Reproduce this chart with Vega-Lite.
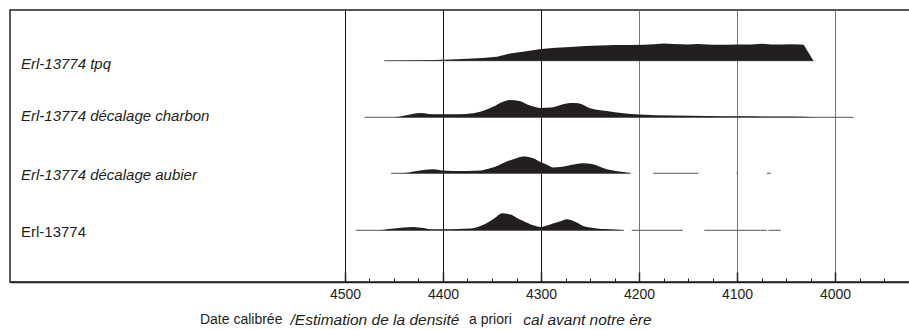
{
  "$schema": "https://vega.github.io/schema/vega-lite/v6.json",
  "width": 900,
  "height": 272,
  "autosize": {"type": "none"},
  "padding": {"left": 10, "top": 10, "right": 0, "bottom": 48},
  "background": "white",
  "config": {
    "view": {"stroke": "#231f20", "strokeWidth": 1.5},
    "font": "Liberation Sans",
    "text": {"font": "Liberation Sans"}
  },
  "datasets": {
    "dens": [
      {"s": "tpq", "year": 4460, "d": 0}, {"s": "tpq", "year": 4440, "d": 0.2}, {"s": "tpq", "year": 4420, "d": 0.5}, {"s": "tpq", "year": 4400, "d": 1}, {"s": "tpq", "year": 4380, "d": 1.6}, {"s": "tpq", "year": 4360, "d": 2.6}, {"s": "tpq", "year": 4345, "d": 4}, {"s": "tpq", "year": 4330, "d": 7.5}, {"s": "tpq", "year": 4315, "d": 9.5}, {"s": "tpq", "year": 4300, "d": 11.8}, {"s": "tpq", "year": 4285, "d": 13}, {"s": "tpq", "year": 4270, "d": 13.8}, {"s": "tpq", "year": 4255, "d": 14.6}, {"s": "tpq", "year": 4240, "d": 15.2}, {"s": "tpq", "year": 4225, "d": 15.6}, {"s": "tpq", "year": 4210, "d": 15.8}, {"s": "tpq", "year": 4195, "d": 16}, {"s": "tpq", "year": 4185, "d": 16.4}, {"s": "tpq", "year": 4175, "d": 17.2}, {"s": "tpq", "year": 4165, "d": 16.6}, {"s": "tpq", "year": 4150, "d": 16.2}, {"s": "tpq", "year": 4140, "d": 16.6}, {"s": "tpq", "year": 4125, "d": 16}, {"s": "tpq", "year": 4110, "d": 15.9}, {"s": "tpq", "year": 4100, "d": 16.2}, {"s": "tpq", "year": 4085, "d": 16.3}, {"s": "tpq", "year": 4075, "d": 16.9}, {"s": "tpq", "year": 4065, "d": 16.2}, {"s": "tpq", "year": 4055, "d": 16.1}, {"s": "tpq", "year": 4045, "d": 16.4}, {"s": "tpq", "year": 4035, "d": 16.1}, {"s": "tpq", "year": 4032, "d": 16}, {"s": "tpq", "year": 4022, "d": 0},
      {"s": "charbon", "year": 4480, "d": 0}, {"s": "charbon", "year": 4450, "d": 0.1}, {"s": "charbon", "year": 4440, "d": 1.5}, {"s": "charbon", "year": 4430, "d": 3.5}, {"s": "charbon", "year": 4423, "d": 4.2}, {"s": "charbon", "year": 4415, "d": 3.4}, {"s": "charbon", "year": 4405, "d": 3}, {"s": "charbon", "year": 4390, "d": 3.1}, {"s": "charbon", "year": 4376, "d": 3.4}, {"s": "charbon", "year": 4362, "d": 5.5}, {"s": "charbon", "year": 4349, "d": 10.5}, {"s": "charbon", "year": 4340, "d": 15}, {"s": "charbon", "year": 4332, "d": 17.3}, {"s": "charbon", "year": 4322, "d": 16.4}, {"s": "charbon", "year": 4312, "d": 12}, {"s": "charbon", "year": 4300, "d": 9.3}, {"s": "charbon", "year": 4290, "d": 9.7}, {"s": "charbon", "year": 4280, "d": 12.3}, {"s": "charbon", "year": 4270, "d": 14.2}, {"s": "charbon", "year": 4262, "d": 14}, {"s": "charbon", "year": 4250, "d": 9}, {"s": "charbon", "year": 4233, "d": 6.3}, {"s": "charbon", "year": 4216, "d": 4}, {"s": "charbon", "year": 4200, "d": 2.7}, {"s": "charbon", "year": 4165, "d": 1.7}, {"s": "charbon", "year": 4131, "d": 1.3}, {"s": "charbon", "year": 4097, "d": 1}, {"s": "charbon", "year": 4060, "d": 0.7}, {"s": "charbon", "year": 4032, "d": 0.6}, {"s": "charbon", "year": 4020, "d": 0},
      {"s": "aubier", "year": 4453, "d": 0}, {"s": "aubier", "year": 4440, "d": 0.3}, {"s": "aubier", "year": 4430, "d": 1.8}, {"s": "aubier", "year": 4420, "d": 3.3}, {"s": "aubier", "year": 4410, "d": 4}, {"s": "aubier", "year": 4400, "d": 2.8}, {"s": "aubier", "year": 4390, "d": 2.3}, {"s": "aubier", "year": 4375, "d": 2.3}, {"s": "aubier", "year": 4362, "d": 2.8}, {"s": "aubier", "year": 4352, "d": 5}, {"s": "aubier", "year": 4343, "d": 8}, {"s": "aubier", "year": 4335, "d": 11.7}, {"s": "aubier", "year": 4326, "d": 14.8}, {"s": "aubier", "year": 4318, "d": 16.7}, {"s": "aubier", "year": 4308, "d": 15}, {"s": "aubier", "year": 4300, "d": 11}, {"s": "aubier", "year": 4295, "d": 9}, {"s": "aubier", "year": 4287, "d": 5.7}, {"s": "aubier", "year": 4280, "d": 6.2}, {"s": "aubier", "year": 4274, "d": 7.3}, {"s": "aubier", "year": 4265, "d": 9}, {"s": "aubier", "year": 4257, "d": 10}, {"s": "aubier", "year": 4247, "d": 9}, {"s": "aubier", "year": 4240, "d": 6.5}, {"s": "aubier", "year": 4233, "d": 4}, {"s": "aubier", "year": 4225, "d": 2.5}, {"s": "aubier", "year": 4216, "d": 1.3}, {"s": "aubier", "year": 4209, "d": 0.4}, {"s": "aubier", "year": 4200, "d": 0},
      {"s": "erl", "year": 4489, "d": 0}, {"s": "erl", "year": 4465, "d": 0.1}, {"s": "erl", "year": 4455, "d": 1.2}, {"s": "erl", "year": 4440, "d": 2.8}, {"s": "erl", "year": 4430, "d": 3.3}, {"s": "erl", "year": 4420, "d": 2.2}, {"s": "erl", "year": 4413, "d": 1.1}, {"s": "erl", "year": 4400, "d": 1}, {"s": "erl", "year": 4385, "d": 1.2}, {"s": "erl", "year": 4372, "d": 1.7}, {"s": "erl", "year": 4362, "d": 4.3}, {"s": "erl", "year": 4352, "d": 9}, {"s": "erl", "year": 4346, "d": 13}, {"s": "erl", "year": 4340, "d": 17}, {"s": "erl", "year": 4331, "d": 15.7}, {"s": "erl", "year": 4325, "d": 12.5}, {"s": "erl", "year": 4318, "d": 9.3}, {"s": "erl", "year": 4308, "d": 5}, {"s": "erl", "year": 4300, "d": 3.3}, {"s": "erl", "year": 4293, "d": 5}, {"s": "erl", "year": 4287, "d": 7}, {"s": "erl", "year": 4280, "d": 9}, {"s": "erl", "year": 4274, "d": 11}, {"s": "erl", "year": 4267, "d": 9.3}, {"s": "erl", "year": 4262, "d": 7}, {"s": "erl", "year": 4257, "d": 4.3}, {"s": "erl", "year": 4250, "d": 2.8}, {"s": "erl", "year": 4243, "d": 1.7}, {"s": "erl", "year": 4226, "d": 0.7}, {"s": "erl", "year": 4215, "d": 0}
    ],
    "segs": [
      {"s": "tpq", "from": 4460, "to": 4022},
      {"s": "charbon", "from": 4480, "to": 3981},
      {"s": "aubier", "from": 4453, "to": 4209},
      {"s": "aubier", "from": 4185.4, "to": 4139.5},
      {"s": "aubier", "from": 4100.5, "to": 4099},
      {"s": "aubier", "from": 4069.7, "to": 4065.6},
      {"s": "erl", "from": 4489, "to": 4215.3},
      {"s": "erl", "from": 4207.4, "to": 4155.4},
      {"s": "erl", "from": 4133.4, "to": 4069.7},
      {"s": "erl", "from": 4068, "to": 4055.4}
    ],
    "labels": [
      {"s": "tpq", "label": "Erl-13774 tpq"},
      {"s": "charbon", "label": "Erl-13774 décalage charbon"},
      {"s": "aubier", "label": "Erl-13774 décalage aubier"},
      {"s": "erl", "label": "Erl-13774"}
    ],
    "title": [
      {"part": 1, "t": "Date calibrée"},
      {"part": 2, "t": "/Estimation de la densité"},
      {"part": 3, "t": "a priori"},
      {"part": 4, "t": "cal avant notre ère"}
    ]
  },
  "layer": [
    {
      "data": {"name": "dens"},
      "mark": {"type": "point", "opacity": 0},
      "encoding": {
        "x": {"field": "year", "type": "quantitative",
          "scale": {"domain": [3923.5, 4841.8], "reverse": true, "nice": false, "zero": false},
          "axis": {"orient": "bottom",
            "values": [4500, 4475, 4450, 4425, 4400, 4375, 4350, 4325, 4300, 4275, 4250, 4225, 4200, 4175, 4150, 4125, 4100, 4075, 4050, 4025, 4000, 3975, 3950, 3925],
            "format": "d", "title": null,
            "labelExpr": "datum.value % 100 === 0 ? datum.label : ''",
            "grid": true,
            "gridColor": {"condition": {"test": "datum.value >= 4300", "value": "#111111"}, "value": "#777777"},
            "gridOpacity": {"condition": {"test": "datum.value % 100 === 0", "value": 1}, "value": 0},
            "gridWidth": 1,
            "domain": true, "domainColor": "#231f20", "domainWidth": 1.5,
            "ticks": true,
            "tickSize": {"condition": {"test": "datum.value % 100 === 0", "value": -10}, "value": -4},
            "tickWidth": {"condition": {"test": "datum.value % 100 === 0", "value": 1.5}, "value": 1},
            "tickColor": "#231f20",
            "labelFont": "Liberation Sans", "labelFontSize": 14, "labelColor": "#231f20", "labelPadding": 15}},
        "y": {"field": "d", "type": "quantitative", "axis": null, "scale": {"domain": [0, 272], "nice": false, "zero": false}}
      }
    },
    {
      "layer": [
        {"data": {"name": "segs"}, "transform": [{"filter": "datum.s == 'tpq'"}],
          "mark": {"type": "rule", "color": "#555555", "strokeWidth": 1},
          "encoding": {"x": {"field": "from", "type": "quantitative", "axis": null}, "x2": {"field": "to"}, "y": {"datum": 0, "type": "quantitative", "axis": null, "scale": {"domain": [-221.3, 50.7], "nice": false, "zero": false}}}},
        {"data": {"name": "dens"}, "transform": [{"filter": "datum.s == 'tpq'"}],
          "mark": {"type": "area", "color": "#231f20", "interpolate": "linear"},
          "encoding": {"x": {"field": "year", "type": "quantitative", "axis": null}, "y": {"field": "d", "type": "quantitative", "axis": null}, "y2": {"datum": 0}}},
        {"data": {"name": "labels"}, "transform": [{"filter": "datum.s == 'tpq'"}],
          "mark": {"type": "text", "align": "left", "baseline": "middle", "fontSize": 15, "fontStyle": "italic", "color": "#231f20"},
          "encoding": {"x": {"datum": 4830.6, "type": "quantitative", "axis": null}, "y": {"datum": -3.6, "type": "quantitative", "axis": null}, "text": {"field": "label"}}}
      ]
    },
    {
      "layer": [
        {"data": {"name": "segs"}, "transform": [{"filter": "datum.s == 'charbon'"}],
          "mark": {"type": "rule", "color": "#555555", "strokeWidth": 1},
          "encoding": {"x": {"field": "from", "type": "quantitative", "axis": null}, "x2": {"field": "to"}, "y": {"datum": 0, "type": "quantitative", "axis": null, "scale": {"domain": [-164.7, 107.3], "nice": false, "zero": false}}}},
        {"data": {"name": "dens"}, "transform": [{"filter": "datum.s == 'charbon'"}],
          "mark": {"type": "area", "color": "#231f20", "interpolate": "monotone"},
          "encoding": {"x": {"field": "year", "type": "quantitative", "axis": null}, "y": {"field": "d", "type": "quantitative", "axis": null}, "y2": {"datum": 0}}},
        {"data": {"name": "labels"}, "transform": [{"filter": "datum.s == 'charbon'"}],
          "mark": {"type": "text", "align": "left", "baseline": "middle", "fontSize": 15, "fontStyle": "italic", "color": "#231f20"},
          "encoding": {"x": {"datum": 4830.6, "type": "quantitative", "axis": null}, "y": {"datum": 1.0, "type": "quantitative", "axis": null}, "text": {"field": "label"}}}
      ]
    },
    {
      "layer": [
        {"data": {"name": "segs"}, "transform": [{"filter": "datum.s == 'aubier'"}],
          "mark": {"type": "rule", "color": "#555555", "strokeWidth": 1},
          "encoding": {"x": {"field": "from", "type": "quantitative", "axis": null}, "x2": {"field": "to"}, "y": {"datum": 0, "type": "quantitative", "axis": null, "scale": {"domain": [-108.7, 163.3], "nice": false, "zero": false}}}},
        {"data": {"name": "dens"}, "transform": [{"filter": "datum.s == 'aubier'"}],
          "mark": {"type": "area", "color": "#231f20", "interpolate": "monotone"},
          "encoding": {"x": {"field": "year", "type": "quantitative", "axis": null}, "y": {"field": "d", "type": "quantitative", "axis": null}, "y2": {"datum": 0}}},
        {"data": {"name": "labels"}, "transform": [{"filter": "datum.s == 'aubier'"}],
          "mark": {"type": "text", "align": "left", "baseline": "middle", "fontSize": 15, "fontStyle": "italic", "color": "#231f20"},
          "encoding": {"x": {"datum": 4830.6, "type": "quantitative", "axis": null}, "y": {"datum": -1.4, "type": "quantitative", "axis": null}, "text": {"field": "label"}}}
      ]
    },
    {
      "layer": [
        {"data": {"name": "segs"}, "transform": [{"filter": "datum.s == 'erl'"}],
          "mark": {"type": "rule", "color": "#555555", "strokeWidth": 1},
          "encoding": {"x": {"field": "from", "type": "quantitative", "axis": null}, "x2": {"field": "to"}, "y": {"datum": 0, "type": "quantitative", "axis": null, "scale": {"domain": [-51.7, 220.3], "nice": false, "zero": false}}}},
        {"data": {"name": "dens"}, "transform": [{"filter": "datum.s == 'erl'"}],
          "mark": {"type": "area", "color": "#231f20", "interpolate": "monotone"},
          "encoding": {"x": {"field": "year", "type": "quantitative", "axis": null}, "y": {"field": "d", "type": "quantitative", "axis": null}, "y2": {"datum": 0}}},
        {"data": {"name": "labels"}, "transform": [{"filter": "datum.s == 'erl'"}],
          "mark": {"type": "text", "align": "left", "baseline": "middle", "fontSize": 15, "fontStyle": "normal", "color": "#231f20"},
          "encoding": {"x": {"datum": 4830.6, "type": "quantitative", "axis": null}, "y": {"datum": -2.0, "type": "quantitative", "axis": null}, "text": {"field": "label"}}},
        {"data": {"name": "title"}, "transform": [{"filter": "datum.part == 1"}],
          "mark": {"type": "text", "align": "left", "baseline": "middle", "fontSize": 14, "fontStyle": "normal", "color": "#231f20"},
          "encoding": {"x": {"datum": 4648.0, "type": "quantitative", "axis": null}, "y": {"datum": -89.7, "type": "quantitative", "axis": null}, "text": {"field": "t"}}},
        {"data": {"name": "title"}, "transform": [{"filter": "datum.part == 2"}],
          "mark": {"type": "text", "align": "center", "baseline": "middle", "fontSize": 15.5, "fontStyle": "italic", "color": "#231f20"},
          "encoding": {"x": {"datum": 4469.4, "type": "quantitative", "axis": null}, "y": {"datum": -89.7, "type": "quantitative", "axis": null}, "text": {"field": "t"}}},
        {"data": {"name": "title"}, "transform": [{"filter": "datum.part == 3"}],
          "mark": {"type": "text", "align": "left", "baseline": "middle", "fontSize": 14, "fontStyle": "normal", "color": "#231f20"},
          "encoding": {"x": {"datum": 4373.5, "type": "quantitative", "axis": null}, "y": {"datum": -89.7, "type": "quantitative", "axis": null}, "text": {"field": "t"}}},
        {"data": {"name": "title"}, "transform": [{"filter": "datum.part == 4"}],
          "mark": {"type": "text", "align": "center", "baseline": "middle", "fontSize": 15.5, "fontStyle": "italic", "color": "#231f20"},
          "encoding": {"x": {"datum": 4252.6, "type": "quantitative", "axis": null}, "y": {"datum": -89.7, "type": "quantitative", "axis": null}, "text": {"field": "t"}}}
      ]
    }
  ],
  "resolve": {"scale": {"y": "independent"}, "axis": {"x": "independent", "y": "independent"}}
}
